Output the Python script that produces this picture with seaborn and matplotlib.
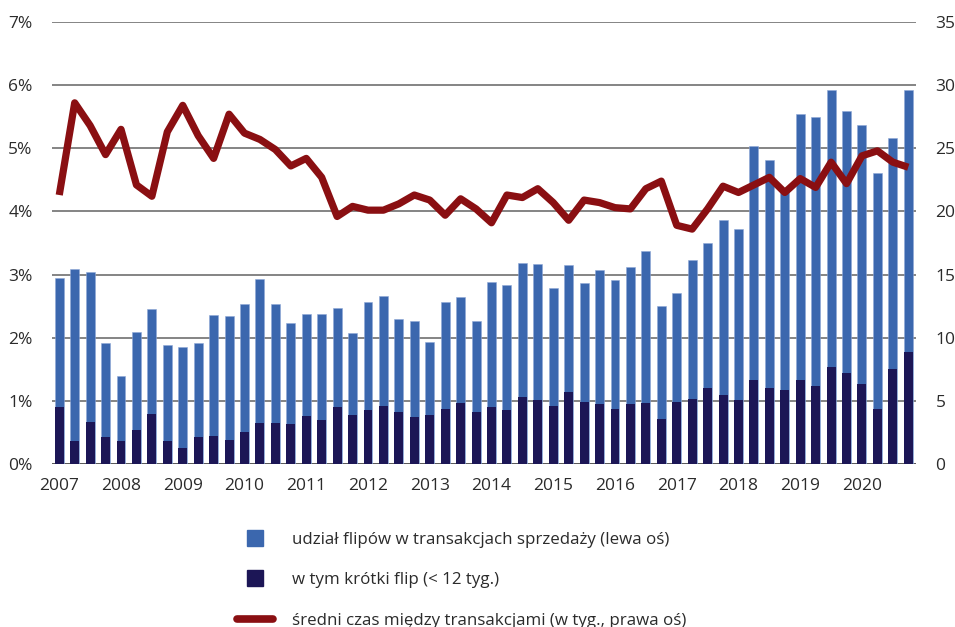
import numpy as np
import pandas as pd
import matplotlib
matplotlib.use("Agg")
import matplotlib.pyplot as plt
from matplotlib.lines import Line2D
import seaborn as sns

# ---- data (quarterly 2007Q1 - 2020Q4) ----
years = list(range(2007, 2021))
quarters = [f"{y}Q{q}" for y in years for q in range(1, 5)]

flip_share = [2.95, 3.09, 3.04, 1.92, 1.39, 2.09, 2.45, 1.88,
              1.86, 1.91, 2.36, 2.34, 2.54, 2.93, 2.54, 2.24,
              2.37, 2.38, 2.47, 2.07, 2.57, 2.66, 2.29, 2.27,
              1.93, 2.57, 2.65, 2.26, 2.89, 2.83, 3.19, 3.16,
              2.78, 3.15, 2.86, 3.08, 2.91, 3.12, 3.38, 2.51,
              2.71, 3.23, 3.50, 3.87, 3.72, 5.03, 4.81, 4.31,
              5.54, 5.50, 5.93, 5.59, 5.37, 4.61, 5.17, 5.93]

short_flip = [0.91, 0.37, 0.66, 0.43, 0.36, 0.54, 0.79, 0.36,
              0.25, 0.42, 0.45, 0.38, 0.50, 0.65, 0.65, 0.64,
              0.76, 0.69, 0.91, 0.78, 0.86, 0.92, 0.83, 0.74,
              0.78, 0.87, 0.96, 0.83, 0.91, 0.86, 1.06, 1.02,
              0.92, 1.14, 0.98, 0.95, 0.87, 0.95, 0.96, 0.71,
              0.98, 1.03, 1.20, 1.09, 1.01, 1.33, 1.20, 1.17,
              1.33, 1.24, 1.53, 1.44, 1.26, 0.87, 1.50, 1.77]

avg_time = [21.3, 28.6, 26.8, 24.5, 26.5, 22.1, 21.2, 26.3,
            28.4, 26.0, 24.2, 27.7, 26.2, 25.7, 24.9, 23.6,
            24.2, 22.7, 19.6, 20.4, 20.1, 20.1, 20.6, 21.3,
            20.9, 19.7, 21.0, 20.2, 19.1, 21.3, 21.1, 21.8,
            20.7, 19.3, 20.9, 20.7, 20.3, 20.2, 21.8, 22.4,
            18.9, 18.6, 20.2, 22.0, 21.5, 22.1, 22.7, 21.5,
            22.6, 21.9, 23.9, 22.2, 24.4, 24.8, 23.9, 23.5]

left_ticks = [0, 1, 2, 3, 4, 5, 6, 7]
left_tick_labels = [f"{v}%" for v in left_ticks]
right_ticks = [0, 5, 10, 15, 20, 25, 30, 35]

legend_labels = ["udział flipów w transakcjach sprzedaży (lewa oś)",
                 "w tym krótki flip (< 12 tyg.)",
                 "średni czas między transakcjami (w tyg., prawa oś)"]

df = pd.DataFrame({"q": quarters, "total": flip_share,
                   "short": short_flip, "time": avg_time})
df["pos"] = np.arange(len(df))

# ---- style ----
sns.set_theme(style="white")
plt.rcParams["font.family"] = ["Open Sans", "DejaVu Sans"]

BLUE = "#3b67ae"
NAVY = "#1c1656"
RED = "#8a0f12"
GRID = "#6f6f6f"
TXT = "#2b2b2b"

fig = plt.figure(figsize=(9.55, 6.27), dpi=100)
ax = fig.add_axes([52 / 955, 1 - 464 / 627, (916 - 52) / 955, (464 - 22) / 627])

sns.barplot(data=df, x="pos", y="total", color=BLUE, width=0.58,
            saturation=1, edgecolor="#8fa8d6", linewidth=0.4, ax=ax, zorder=2)
sns.barplot(data=df, x="pos", y="short", color=NAVY, width=0.58,
            saturation=1, linewidth=0, ax=ax, zorder=3)

ax.set_ylim(0, 7)
ax.set_xlim(-0.47, 55.5)
ax.set_yticks(left_ticks)
ax.set_yticklabels(left_tick_labels)
ax.set_xticks(np.arange(0, 56, 4))
ax.set_xticklabels([str(y) for y in years])
ax.set_xlabel("")
ax.set_ylabel("")
ax.grid(False)
for y in left_ticks:
    ax.axhline(y, color=GRID if y > 0 else "#3a3a3a", lw=1.2, zorder=1)
for s in ax.spines.values():
    s.set_visible(False)
ax.tick_params(axis="y", length=0, pad=14, labelsize=12.5, labelcolor=TXT)
ax.tick_params(axis="x", length=0, pad=10, labelsize=12.5, labelcolor=TXT)

ax2 = ax.twinx()
sns.lineplot(data=df, x="pos", y="time", color=RED, lw=5.2, ax=ax2,
             solid_joinstyle="round", solid_capstyle="butt", zorder=5)
ax2.set_ylim(0, 35)
ax2.set_xlim(-0.47, 55.5)
ax2.set_yticks(right_ticks)
ax2.set_ylabel("")
ax2.grid(False)
for s in ax2.spines.values():
    s.set_visible(False)
ax2.tick_params(axis="y", length=0, pad=14, labelsize=12.5, labelcolor=TXT)

handles = [Line2D([], [], marker="s", linestyle="none", markersize=11,
                  markerfacecolor=BLUE, markeredgecolor=BLUE),
           Line2D([], [], marker="s", linestyle="none", markersize=11,
                  markerfacecolor=NAVY, markeredgecolor=NAVY),
           Line2D([], [], color=RED, lw=5.5, solid_capstyle="round")]
leg = fig.legend(handles, legend_labels, loc="upper left",
                 bbox_to_anchor=(230 / 955, 1 - 525 / 627), frameon=False,
                 fontsize=12.2, handlelength=2.15, handletextpad=1.1,
                 labelspacing=1.45, borderaxespad=0)
for t in leg.get_texts():
    t.set_color(TXT)

fig.savefig("out.png", dpi=100)
